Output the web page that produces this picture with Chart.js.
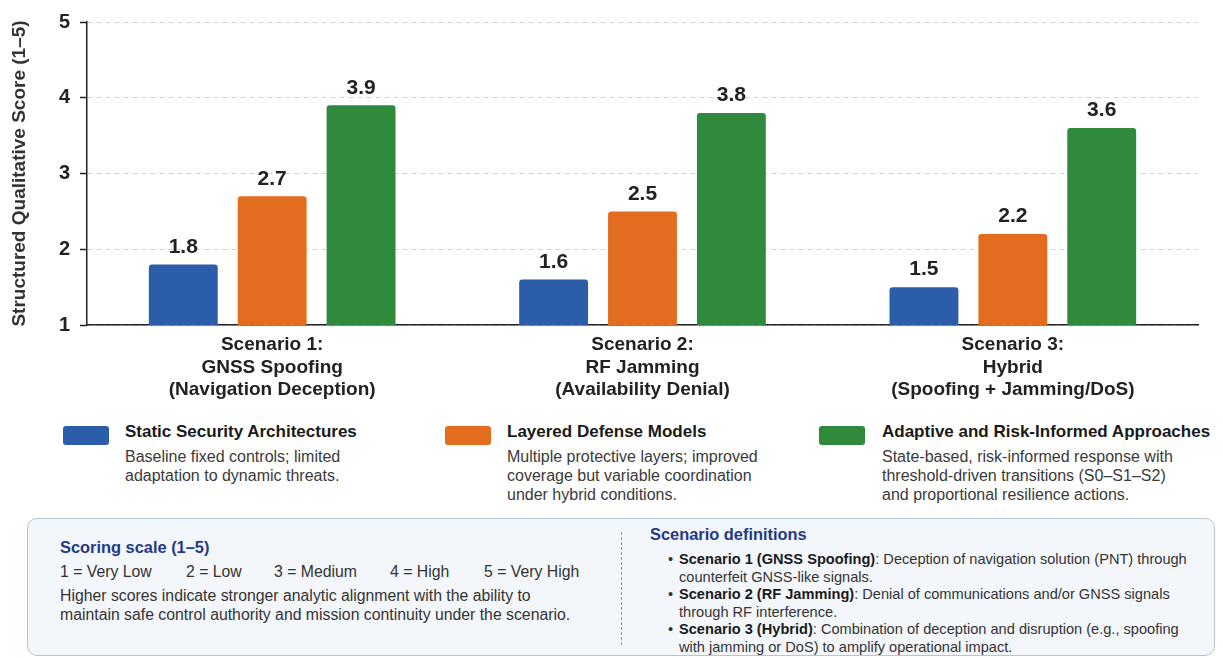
<!DOCTYPE html>
<html>
<head>
<meta charset="utf-8">
<script src="https://cdn.jsdelivr.net/npm/chart.js@4.4.1/dist/chart.umd.min.js"></script>
<style>
  body { margin: 0; background: #fff; font-family: "Liberation Sans", Arial, sans-serif; color: #222; }
  .abs { position: absolute; white-space: nowrap; }
  .sw { position: absolute; width: 46px; height: 19px; border-radius: 3px; }
  .lt { font-weight: bold; font-size: 17px; line-height: 19px; color: #1a1a1a; }
  .ld { font-size: 16px; line-height: 19px; color: #3a3a3a; }
  .box { position: absolute; left: 27px; top: 518px; width: 1186px; height: 136px;
         border: 1px solid #b9c4d3; border-radius: 10px; background: #f3f6fa; }
  .bt { font-weight: bold; font-size: 16.4px; line-height: 19px; color: #1f3a86; }
  .bx { font-size: 15.8px; line-height: 18.5px; color: #333; }
  .defs { font-size: 14.6px; line-height: 17.5px; color: #333; }
  .defs div { position: relative; padding-left: 11px; }
  .defs div::before { content: "\2022"; position: absolute; left: 0; top: 0; }
  .defs b { color: #1a1a1a; }
</style>
</head>
<body>
<canvas id="c" width="1223" height="405" style="position:absolute;left:0;top:0"></canvas>

<div class="sw" style="left:63px;top:426px;background:#2c5da8"></div>
<div class="abs lt" style="left:125px;top:422px">Static Security Architectures</div>
<div class="abs ld" style="left:125px;top:447px">Baseline fixed controls; limited<br>adaptation to dynamic threats.</div>

<div class="sw" style="left:445px;top:426px;background:#e36c1e"></div>
<div class="abs lt" style="left:507px;top:422px">Layered Defense Models</div>
<div class="abs ld" style="left:507px;top:447px">Multiple protective layers; improved<br>coverage but variable coordination<br>under hybrid conditions.</div>

<div class="sw" style="left:819px;top:426px;background:#2f8a3c"></div>
<div class="abs lt" style="left:882px;top:422px">Adaptive and Risk-Informed Approaches</div>
<div class="abs ld" style="left:882px;top:447px">State-based, risk-informed response with<br>threshold-driven transitions (S0–S1–S2)<br>and proportional resilience actions.</div>

<div class="box"></div>
<div class="abs bt" style="left:60px;top:538px">Scoring scale (1–5)</div>
<div class="abs bx" style="left:60px;top:563px">1 = Very Low</div>
<div class="abs bx" style="left:186px;top:563px">2 = Low</div>
<div class="abs bx" style="left:274px;top:563px">3 = Medium</div>
<div class="abs bx" style="left:390px;top:563px">4 = High</div>
<div class="abs bx" style="left:484px;top:563px">5 = Very High</div>
<div class="abs bx" style="left:60px;top:587px">Higher scores indicate stronger analytic alignment with the ability to<br>maintain safe control authority and mission continuity under the scenario.</div>

<div class="abs" style="left:621px;top:532px;height:113px;border-left:1px dashed #8e9aab"></div>
<div class="abs bt" style="left:650px;top:525px">Scenario definitions</div>
<div class="abs defs" style="left:668px;top:551px">
  <div><b>Scenario 1 (GNSS Spoofing)</b>: Deception of navigation solution (PNT) through<br>counterfeit GNSS-like signals.</div>
  <div><b>Scenario 2 (RF Jamming)</b>: Denial of communications and/or GNSS signals<br>through RF interference.</div>
  <div><b>Scenario 3 (Hybrid)</b>: Combination of deception and disruption (e.g., spoofing<br>with jamming or DoS) to amplify operational impact.</div>
</div>

<script>
// data
var scenarios = [
    ['Scenario 1:', 'GNSS Spoofing', '(Navigation Deception)'],
    ['Scenario 2:', 'RF Jamming', '(Availability Denial)'],
    ['Scenario 3:', 'Hybrid', '(Spoofing + Jamming/DoS)']
];
var staticScores = [1.8, 1.6, 1.5];
var layeredScores = [2.7, 2.5, 2.2];
var adaptiveScores = [3.9, 3.8, 3.6];
var yTicks = [1, 2, 3, 4, 5];

var FONT = '"Liberation Sans", Arial, sans-serif';

// value labels over the bars
var valueLabels = {
    id: 'valueLabels',
    afterDatasetsDraw: function (chart) {
        var ctx = chart.ctx;
        ctx.save();
        ctx.font = 'bold 21px ' + FONT;
        ctx.fillStyle = '#222';
        ctx.textAlign = 'center';
        ctx.textBaseline = 'bottom';
        chart.data.datasets.forEach(function (ds, i) {
            chart.getDatasetMeta(i).data.forEach(function (bar, j) {
                ctx.fillText(ds.data[j].toFixed(1), bar.x, bar.y - 7);
            });
        });
        ctx.restore();
    }
};

function bars(label, data, color) {
    return {
        label: label,
        data: data,
        backgroundColor: color,
        borderRadius: 3,
        categoryPercentage: 0.72,
        barPercentage: 0.775
    };
}

var chart = new Chart(document.getElementById('c'), {
    type: 'bar',
    data: {
        labels: scenarios,
        datasets: [
            bars('Static Security Architectures', staticScores, '#2c5da8'),
            bars('Layered Defense Models', layeredScores, '#e36c1e'),
            bars('Adaptive and Risk-Informed Approaches', adaptiveScores, '#2f8a3c')
        ]
    },
    options: {
        responsive: false,
        animation: false,
        layout: { padding: { top: 20, right: 25, left: 0, bottom: 0 } },
        plugins: { legend: { display: false }, tooltip: { enabled: false } },
        scales: {
            x: {
                grid: { display: false, drawTicks: false },
                border: { display: true, color: '#222', width: 1.5 },
                ticks: { color: '#222', padding: 9, font: { family: FONT, size: 19, weight: 'bold', lineHeight: 1.18 } },
                afterFit: function (scale) { scale.height = 80; }
            },
            y: {
                min: 1,
                max: 5,
                afterBuildTicks: function (scale) {
                    scale.ticks = yTicks.map(function (v) { return { value: v }; });
                },
                grid: { color: '#d2d2d2', lineWidth: 1, tickColor: '#222', tickLength: 7, tickWidth: 1.5, tickBorderDash: [] },
                border: { display: true, color: '#222', width: 1.5, dash: [5, 4] },
                ticks: { color: '#222', padding: 10, font: { family: FONT, size: 20, weight: 'bold' } },
                title: {
                    display: true,
                    text: 'Structured Qualitative Score (1–5)',
                    color: '#333',
                    padding: { top: 8, bottom: 0 },
                    font: { family: FONT, size: 19, weight: 'bold' }
                },
                afterFit: function (scale) { scale.width = 87; }
            }
        }
    },
    plugins: [valueLabels]
});
</script>
</body>
</html>
